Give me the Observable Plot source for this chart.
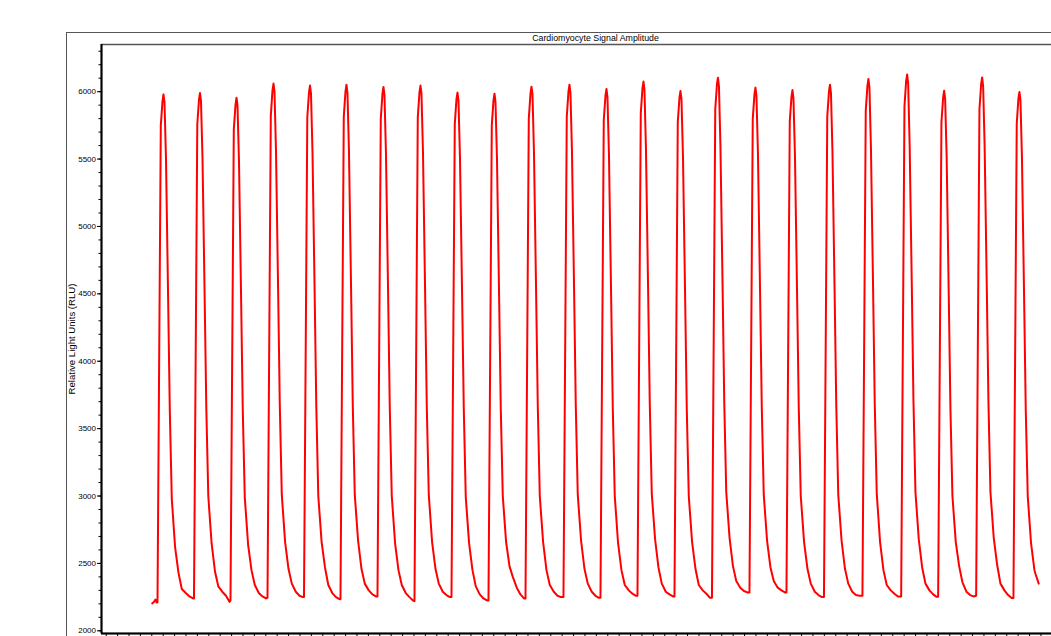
<!DOCTYPE html>
<html><head><meta charset="utf-8">
<script src="https://cdn.jsdelivr.net/npm/d3@7"></script>
<script src="https://cdn.jsdelivr.net/npm/@observablehq/plot@0.6"></script>
<style>
html,body{margin:0;padding:0;background:#fff;overflow:hidden;width:1051px;height:636px;}
#wrap{position:relative;width:1051px;height:636px;overflow:hidden;background:#fff;}
#outer{position:absolute;left:66px;top:32px;width:1100px;height:720px;border:1px solid #555;box-sizing:border-box;}
#chart{position:absolute;left:0;top:0;width:1130px;height:700px;}
#chart svg{max-width:none !important;width:1130px;height:700px;}
</style></head><body>
<div id="wrap"><div id="outer"></div><div id="chart"></div></div>
<script>
const title = "Cardiomyocyte Signal Amplitude";
const yLabel = "Relative Light Units (RLU)";
const yTicks = [2000, 2500, 3000, 3500, 4000, 4500, 5000, 5500, 6000];
const yMinorTicks = d3.range(2000, 6301, 100);
const xTicks = d3.range(0, 43.1, 0.5);
const xDomain = [-0.206, 43.13];
const yDomain = [1980, 6350];

// time (s) of each beat's peak
const peakTimes = [2.513, 4.114, 5.715, 7.338, 8.939, 10.539, 12.162, 13.785, 15.408, 17.031,
  18.654, 20.320, 21.943, 23.566, 25.189, 26.833, 28.478, 30.101, 31.746, 33.434,
  35.132, 36.754, 38.421, 40.057];
// sample times relative to each peak (s)
const sampleOffsets = [-0.263, -0.118, -0.044, 0, 0.044, 0.110, 0.202, 0.276, 0.364, 0.509,
  0.658, 0.803, 0.978, 1.140, 1.294];
// readings before the first beat
const leadTimes = [2.018, 2.100, 2.162, 2.215];
const leadRLU = [2203, 2215, 2232, 2210];
// readings after the last beat
const tailTimes = [40.760, 40.903];
const tailRLU = [2423, 2350];
// RLU readings for each beat at the sample offsets
const beatRLU = [
  [2212, 5750, 5930, 5980, 5920, 5500, 4480, 3640, 2980, 2620, 2430, 2310, 2280, 2255, 2240],
  [2240, 5760, 5940, 5990, 5930, 5510, 4500, 3660, 3000, 2650, 2440, 2330, 2290, 2260, 2215],
  [2225, 5720, 5900, 5955, 5900, 5480, 4470, 3630, 2990, 2640, 2450, 2340, 2280, 2255, 2240],
  [2245, 5820, 6010, 6060, 6000, 5560, 4540, 3680, 3010, 2660, 2460, 2350, 2290, 2260, 2250],
  [2250, 5810, 5995, 6045, 5985, 5550, 4530, 3670, 3000, 2660, 2470, 2340, 2280, 2250, 2235],
  [2235, 5815, 6000, 6052, 5990, 5555, 4540, 3680, 3010, 2670, 2460, 2350, 2300, 2270, 2255],
  [2255, 5800, 5985, 6035, 5975, 5540, 4520, 3660, 3000, 2650, 2450, 2340, 2280, 2250, 2225],
  [2220, 5810, 5995, 6045, 5985, 5550, 4530, 3670, 3010, 2660, 2460, 2350, 2290, 2265, 2250],
  [2250, 5760, 5945, 5993, 5935, 5510, 4500, 3650, 2990, 2650, 2450, 2330, 2270, 2240, 2225],
  [2225, 5750, 5935, 5985, 5925, 5500, 4490, 3650, 3000, 2660, 2480, 2400, 2320, 2270, 2240],
  [2240, 5800, 5985, 6037, 5980, 5545, 4520, 3670, 3000, 2660, 2450, 2340, 2290, 2260, 2250],
  [2250, 5815, 6000, 6052, 5990, 5555, 4540, 3680, 3010, 2670, 2460, 2350, 2290, 2260, 2245],
  [2245, 5790, 5970, 6020, 5960, 5530, 4510, 3660, 3000, 2650, 2450, 2340, 2300, 2275, 2260],
  [2260, 5840, 6025, 6075, 6015, 5570, 4550, 3690, 3020, 2680, 2470, 2350, 2290, 2270, 2255],
  [2255, 5775, 5955, 6005, 5945, 5520, 4500, 3650, 3000, 2660, 2460, 2340, 2300, 2275, 2245],
  [2245, 5870, 6055, 6104, 6040, 5590, 4570, 3700, 3030, 2690, 2480, 2370, 2320, 2295, 2285],
  [2285, 5800, 5980, 6030, 5970, 5540, 4520, 3670, 3010, 2670, 2470, 2370, 2320, 2300, 2285],
  [2285, 5780, 5960, 6012, 5950, 5525, 4510, 3660, 3000, 2660, 2460, 2350, 2290, 2265, 2250],
  [2250, 5815, 6000, 6052, 5990, 5555, 4540, 3680, 3010, 2670, 2460, 2350, 2290, 2265, 2260],
  [2260, 5860, 6045, 6094, 6030, 5580, 4560, 3690, 3020, 2660, 2450, 2340, 2300, 2275, 2255],
  [2255, 5890, 6080, 6128, 6060, 5600, 4580, 3710, 3030, 2680, 2470, 2350, 2300, 2270, 2252],
  [2252, 5775, 5955, 6007, 5945, 5520, 4500, 3650, 3000, 2660, 2480, 2360, 2290, 2265, 2255],
  [2260, 5870, 6055, 6106, 6040, 5590, 4570, 3700, 3030, 2690, 2490, 2350, 2300, 2265, 2243],
  [2243, 5765, 5950, 5998, 5940, 5515, 4500, 3650, 3000, 2650, 2450]
];

const trace = [];
leadTimes.forEach((t, i) => trace.push({t, rlu: leadRLU[i]}));
beatRLU.forEach((vals, b) => vals.forEach((v, j) => trace.push({t: peakTimes[b] + sampleOffsets[j], rlu: v})));
tailTimes.forEach((t, i) => trace.push({t, rlu: tailRLU[i]}));

const chart = Plot.plot({
  width: 1130, height: 700,
  marginLeft: 101, marginRight: 41, marginTop: 44, marginBottom: 67,
  style: {background: "transparent", fontFamily: "'Liberation Sans', Arial, sans-serif", fontSize: "8px", color: "#000", maxWidth: "none"},
  x: {domain: xDomain, axis: null},
  y: {domain: yDomain, axis: null},
  marks: [
    Plot.frame({stroke: "#555", strokeWidth: 1.5}),
    Plot.axisY({ticks: yMinorTicks, tickSize: 2.5, tickFormat: () => "", label: null}),
    Plot.axisY({ticks: yTicks, tickSize: 4, tickPadding: 1.5, tickFormat: d => String(d), label: null, fontSize: 8}),
    Plot.axisX({ticks: xTicks, tickSize: 4, tickFormat: () => "", label: null}),
    Plot.line(trace, {x: "t", y: "rlu", stroke: "#ff0000", strokeWidth: 2}),
    Plot.ruleX([xDomain[0]], {stroke: "#000", strokeWidth: 2}),
    Plot.ruleY([yDomain[0]], {stroke: "#000", strokeWidth: 2}),
    Plot.text([title], {frameAnchor: "top", dy: -6, lineAnchor: "middle", textAnchor: "middle", fontSize: 8.8, fill: "#000"}),
    Plot.text([yLabel], {frameAnchor: "left", dx: -30, rotate: -90, lineAnchor: "middle", textAnchor: "middle", fontSize: 9.6, fill: "#000"})
  ]
});
document.getElementById("chart").appendChild(chart);
</script>
</body></html>
